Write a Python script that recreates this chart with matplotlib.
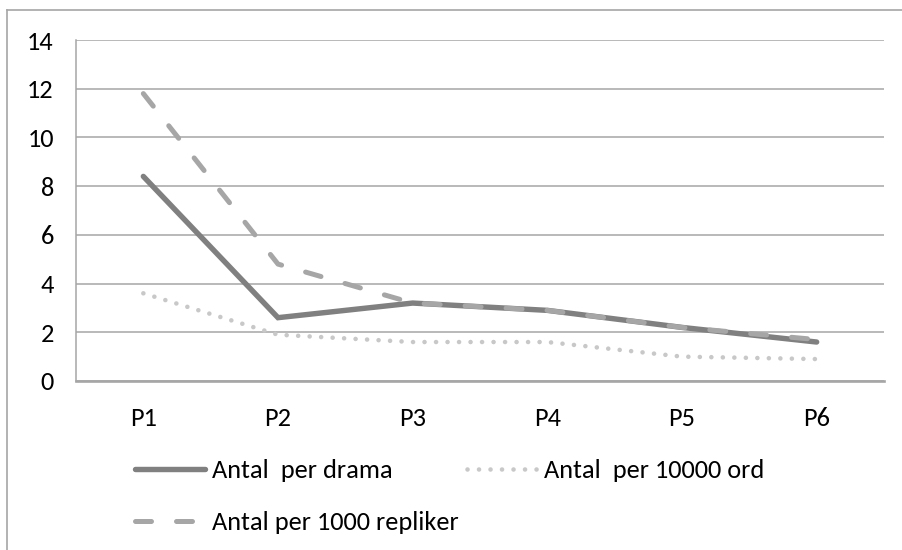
import matplotlib.pyplot as plt
from matplotlib.lines import Line2D

plt.rcParams['font.family'] = ['Carlito', 'Lato', 'DejaVu Sans']

# Values per period
periods = ['P1', 'P2', 'P3', 'P4', 'P5', 'P6']
per_drama = [8.4, 2.6, 3.2, 2.9, 2.2, 1.6]
per_1000_repliker = [11.8, 4.8, 3.2, 2.9, 2.2, 1.7]
per_10000_ord = [3.6, 1.9, 1.6, 1.6, 1.0, 0.9]

W, H = 903, 550
fig = plt.figure(figsize=(W / 100, H / 100), dpi=100)
ax = fig.add_axes([76 / W, 1 - 381 / H, (884 - 76) / W, (381 - 40) / H])

x = range(len(periods))
l1, = ax.plot(x, per_drama, color='#808080', lw=3.9, solid_capstyle='round',
              solid_joinstyle='miter', label='Antal  per drama', zorder=3)
l3, = ax.plot(x, per_10000_ord, color='#c8c8c8', lw=3.3, linestyle=(0, (0.01, 2.5)),
              dash_capstyle='round', label='Antal  per 10000 ord', zorder=3)
l2, = ax.plot(x, per_1000_repliker, color='#a6a6a6', lw=3.6, linestyle=(0, (3.2, 5.0)),
              dash_capstyle='round', label='Antal per 1000 repliker', zorder=4)

ax.set_xlim(-0.5, len(periods) - 0.5)
ax.set_ylim(0, 14)
ax.set_yticks(range(0, 15, 2))
ax.set_xticks(list(x))
ax.set_xticklabels(periods)
ax.yaxis.grid(True, color='#a6a6a6', lw=1.1)
ax.set_axisbelow(True)
ax.tick_params(length=0, labelsize=19, colors='black')
ax.tick_params(axis='y', pad=16)
ax.tick_params(axis='x', pad=19)
for s in ['top', 'right']:
    ax.spines[s].set_visible(False)
ax.spines['left'].set_color('#a6a6a6')
ax.spines['left'].set_linewidth(1.1)
ax.spines['bottom'].set_color('#a6a6a6')
ax.spines['bottom'].set_linewidth(1.9)

fig.legend(handles=[l1, l2, l3], ncol=2, frameon=False, fontsize=19,
           loc='upper left', bbox_to_anchor=(135 / W, 1 - 459 / H),
           borderpad=0, borderaxespad=0,
           handlelength=2.65, handletextpad=0.27, columnspacing=0.3,
           labelspacing=1.1)

# outer chart frame
fig.add_artist(Line2D([7 / W, 7 / W], [0, 1 - 10 / H], color='#a6a6a6', lw=1.2))
fig.add_artist(Line2D([7 / W, 1], [1 - 10 / H, 1 - 10 / H], color='#a6a6a6', lw=1.2))

fig.savefig('out.png', dpi=100)
